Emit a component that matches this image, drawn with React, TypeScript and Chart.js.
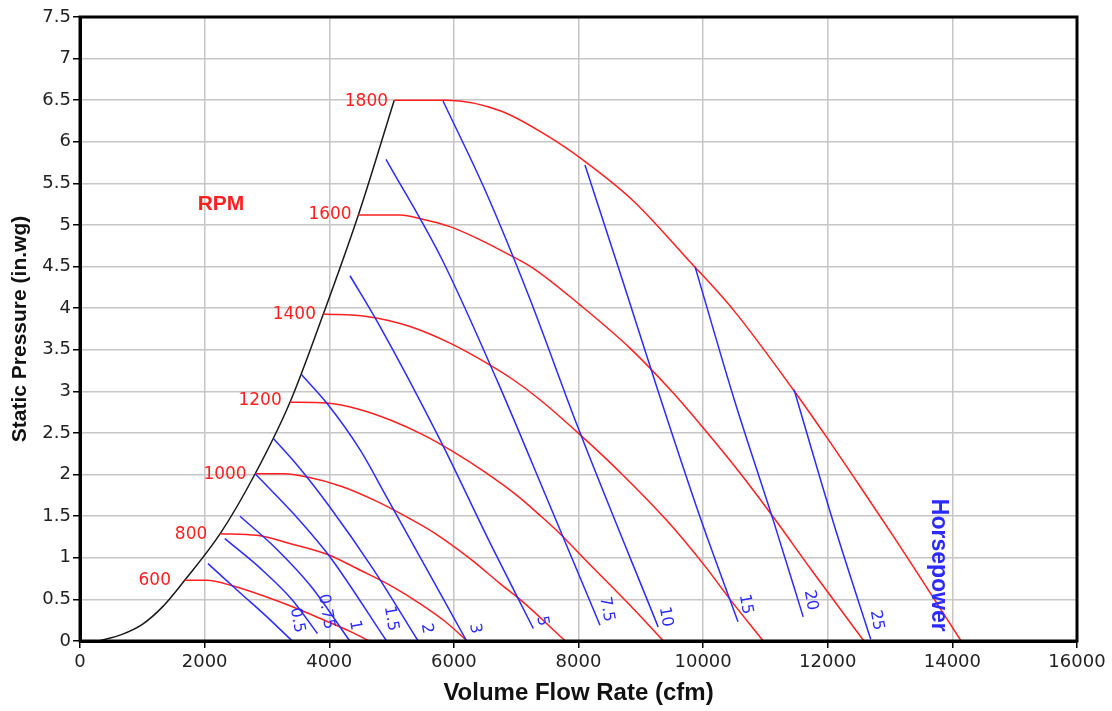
import React, { useEffect, useRef } from 'react';
import { Chart, registerables } from 'chart.js';

Chart.register(...registerables);

// ---------- Axis ticks ----------
const flowTicks = [0, 2000, 4000, 6000, 8000, 10000, 12000, 14000, 16000];
const pressureTicks = [0, 0.5, 1, 1.5, 2, 2.5, 3, 3.5, 4, 4.5, 5, 5.5, 6, 6.5, 7, 7.5];

// ---------- System curve (black) ----------
const systemFlow = [297, 676, 1000, 1324, 1680, 2250, 2811, 3370, 3905, 4467, 5043];
const systemPressure = [0, 0.08, 0.2, 0.41, 0.73, 1.29, 2.01, 2.87, 3.93, 5.12, 6.5];

// ---------- Fan speed curves (red) ----------
const rpmLabels = ['600', '800', '1000', '1200', '1400', '1600', '1800'];

const rpm600Flow = [1680, 2030, 2460, 2950, 3380, 3920, 4350, 4640];
const rpm600Pressure = [0.73, 0.73, 0.66, 0.54, 0.42, 0.25, 0.11, 0];

const rpm800Flow = [2250, 2840, 3380, 3975, 4500, 5000, 5456, 5850, 6215];
const rpm800Pressure = [1.29, 1.27, 1.17, 1.04, 0.85, 0.66, 0.45, 0.24, 0];

const rpm1000Flow = [2811, 3278, 3649, 4189, 4730, 5270, 5684, 6259, 6741, 7061, 7790];
const rpm1000Pressure = [2.01, 2.01, 1.97, 1.86, 1.69, 1.48, 1.3, 0.99, 0.69, 0.5, 0];

const rpm1200Flow = [3370, 3959, 4500, 5000, 5500, 6000, 6500, 7012, 7382, 7703, 8104, 8800, 9365];
const rpm1200Pressure = [2.87, 2.86, 2.78, 2.65, 2.48, 2.27, 2.03, 1.75, 1.51, 1.29, 0.98, 0.45, 0];

const rpm1400Flow = [3905, 4601, 5296, 5938, 6527, 6954, 7382, 8024, 8719, 9415, 10030, 10432, 10966];
const rpm1400Pressure = [3.93, 3.9, 3.78, 3.58, 3.34, 3.14, 2.9, 2.48, 1.99, 1.45, 0.9, 0.5, 0];

const rpm1600Flow = [4467, 5135, 5500, 5938, 6400, 6740, 7275, 8024, 8826, 9521, 10003, 10592, 11126, 11742, 12580];
const rpm1600Pressure = [5.12, 5.12, 5.07, 4.98, 4.83, 4.7, 4.48, 4.04, 3.52, 2.98, 2.56, 2.02, 1.49, 0.85, 0];

const rpm1800Flow = [5043, 5898, 6754, 7503, 8091, 8893, 9763, 10484, 11447, 11982, 12517, 13052, 13427, 14140];
const rpm1800Pressure = [6.5, 6.5, 6.37, 6.07, 5.77, 5.28, 4.58, 3.98, 3.02, 2.45, 1.86, 1.26, 0.83, 0];

// label anchors for the rpm numbers (right edge of text)
const rpmLabelFlow = [1460, 2043, 2675, 3237, 3787, 4360, 4943];
const rpmLabelPressure = [0.73, 1.28, 2.0, 2.89, 3.92, 5.12, 6.48];

// ---------- Horsepower curves (blue) ----------
const hpLabels = ['0.5', '0.75', '1', '1.5', '2', '3', '5', '7.5', '10', '15', '20', '25'];

const hp05Flow = [2054, 2568, 3000, 3405];
const hp05Pressure = [0.93, 0.58, 0.29, 0];

const hp075Flow = [2324, 2900, 3400, 3811];
const hp075Pressure = [1.23, 0.87, 0.5, 0.09];

const hp1Flow = [2568, 3162, 3703, 4330];
const hp1Pressure = [1.5, 1.1, 0.66, 0];

const hp15Flow = [2811, 3451, 4012, 4920];
const hp15Pressure = [2.01, 1.51, 1.01, 0];

const hp2Flow = [3108, 3500, 4000, 4700, 5427];
const hp2Pressure = [2.43, 2.1, 1.62, 0.87, 0];

const hp3Flow = [3557, 3959, 4493, 4921, 6205];
const hp3Pressure = [3.2, 2.86, 2.3, 1.73, 0];

const hp5Flow = [4333, 4800, 5777, 6600, 7275];
const hp5Pressure = [4.39, 3.8, 2.42, 1.15, 0.15];

const hp75Flow = [4911, 5800, 6700, 7500, 8345];
const hp75Pressure = [5.79, 4.6, 3.12, 1.7, 0.19];

const hp10Flow = [5826, 6500, 7200, 8000, 9278];
const hp10Pressure = [6.49, 5.42, 4.15, 2.55, 0.17];

const hp15hpFlow = [8104, 8700, 9300, 9950, 10560];
const hp15hpPressure = [5.72, 4.35, 2.95, 1.49, 0.23];

const hp20Flow = [9870, 10500, 11126, 11606];
const hp20Pressure = [4.5, 2.9, 1.45, 0.29];

const hp25Flow = [11460, 12100, 12690];
const hp25Pressure = [3.02, 1.4, 0.02];

// label anchors for the horsepower numbers (text centre)
const hpLabelFlow = [3483, 3950, 4413, 4990, 5563, 6339, 7419, 8452, 9399, 10683, 11726, 12785];
const hpLabelPressure = [0.25, 0.35, 0.19, 0.27, 0.15, 0.15, 0.24, 0.38, 0.29, 0.44, 0.49, 0.25];

// captions
const rpmCaption = 'RPM';
const rpmCaptionPos = [2263, 5.25];
const hpCaption = 'Horsepower';
const hpCaptionPos = [13769, 0.91];

const RED = '#ff1f1f';
const BLUE = '#2b2bff';
const BLACK = '#1a1a1a';
const TICK_FONT = '"DejaVu Sans", "Liberation Sans", sans-serif';
const TITLE_FONT = '"Liberation Sans", Arial, sans-serif';

const toPoints = (xs: number[], ys: number[]) => xs.map((x, i) => ({ x, y: ys[i] }));

const rpmSeries: [number[], number[]][] = [
  [rpm600Flow, rpm600Pressure],
  [rpm800Flow, rpm800Pressure],
  [rpm1000Flow, rpm1000Pressure],
  [rpm1200Flow, rpm1200Pressure],
  [rpm1400Flow, rpm1400Pressure],
  [rpm1600Flow, rpm1600Pressure],
  [rpm1800Flow, rpm1800Pressure],
];

const hpSeries: [number[], number[]][] = [
  [hp05Flow, hp05Pressure],
  [hp075Flow, hp075Pressure],
  [hp1Flow, hp1Pressure],
  [hp15Flow, hp15Pressure],
  [hp2Flow, hp2Pressure],
  [hp3Flow, hp3Pressure],
  [hp5Flow, hp5Pressure],
  [hp75Flow, hp75Pressure],
  [hp10Flow, hp10Pressure],
  [hp15hpFlow, hp15hpPressure],
  [hp20Flow, hp20Pressure],
  [hp25Flow, hp25Pressure],
];

const annotations = {
  id: 'fanAnnotations',
  afterDatasetsDraw(chart: any) {
    const { ctx, chartArea, scales } = chart;
    const xs = scales.x;
    const ys = scales.y;
    ctx.save();
    // frame
    ctx.strokeStyle = '#000';
    ctx.lineWidth = 3;
    ctx.strokeRect(chartArea.left, chartArea.top, chartArea.right - chartArea.left, chartArea.bottom - chartArea.top);

    // rpm numbers
    ctx.fillStyle = RED;
    ctx.font = `17px ${TICK_FONT}`;
    ctx.textAlign = 'right';
    ctx.textBaseline = 'middle';
    rpmLabels.forEach((t, i) => {
      ctx.fillText(t, xs.getPixelForValue(rpmLabelFlow[i]), ys.getPixelForValue(rpmLabelPressure[i]));
    });

    // RPM caption
    ctx.font = `bold 21px ${TITLE_FONT}`;
    ctx.textAlign = 'center';
    ctx.fillText(rpmCaption, xs.getPixelForValue(rpmCaptionPos[0]), ys.getPixelForValue(rpmCaptionPos[1]));

    // hp numbers (rotated)
    ctx.fillStyle = BLUE;
    ctx.font = `16px ${TICK_FONT}`;
    hpLabels.forEach((t, i) => {
      ctx.save();
      ctx.translate(xs.getPixelForValue(hpLabelFlow[i]), ys.getPixelForValue(hpLabelPressure[i]));
      ctx.rotate((80 * Math.PI) / 180);
      ctx.textAlign = 'center';
      ctx.textBaseline = 'middle';
      ctx.fillText(t, 0, 0);
      ctx.restore();
    });

    // Horsepower caption
    ctx.save();
    ctx.translate(xs.getPixelForValue(hpCaptionPos[0]), ys.getPixelForValue(hpCaptionPos[1]));
    ctx.rotate(Math.PI / 2);
    ctx.font = `bold 23px ${TITLE_FONT}`;
    ctx.textAlign = 'center';
    ctx.textBaseline = 'middle';
    ctx.fillText(hpCaption, 0, 0);
    ctx.restore();

    ctx.restore();
  },
};

export default function App() {
  const canvasRef = useRef<HTMLCanvasElement | null>(null);

  useEffect(() => {
    if (!canvasRef.current) return;
    const datasets: any[] = [];
    hpSeries.forEach(([fx, py], i) => {
      datasets.push({
        label: `${hpLabels[i]} hp`,
        data: toPoints(fx, py),
        borderColor: BLUE,
        borderWidth: 1.5,
        pointRadius: 0,
        cubicInterpolationMode: 'monotone',
        fill: false,
      });
    });
    rpmSeries.forEach(([fx, py], i) => {
      datasets.push({
        label: `${rpmLabels[i]} rpm`,
        data: toPoints(fx, py),
        borderColor: RED,
        borderWidth: 1.5,
        pointRadius: 0,
        cubicInterpolationMode: 'monotone',
        fill: false,
      });
    });
    datasets.push({
      label: 'System',
      data: toPoints(systemFlow, systemPressure),
      borderColor: BLACK,
      borderWidth: 1.5,
      pointRadius: 0,
      cubicInterpolationMode: 'monotone',
      fill: false,
    });

    const chart = new Chart(canvasRef.current, {
      type: 'line',
      data: { datasets },
      options: {
        animation: false,
        responsive: false,
        devicePixelRatio: 1,
        events: [],
        layout: { padding: { left: 0, right: 35, top: 17, bottom: 0 } },
        plugins: {
          legend: { display: false },
          tooltip: { enabled: false },
        },
        scales: {
          x: {
            type: 'linear',
            min: flowTicks[0],
            max: flowTicks[flowTicks.length - 1],
            afterFit: (s: any) => {
              s.height = 70;
            },
            afterBuildTicks: (s: any) => {
              s.ticks = flowTicks.map((v) => ({ value: v }));
            },
            ticks: {
              callback: (v: any) => String(v),
              font: { family: TICK_FONT, size: 18 },
              color: '#222',
              padding: 4,
              maxRotation: 0,
              autoSkip: false,
            },
            grid: { color: '#c6c6c6', lineWidth: 1.5, tickColor: '#000', tickLength: 7, tickWidth: 1.5 },
            border: { color: '#000', width: 3 },
            title: {
              display: true,
              text: 'Volume Flow Rate (cfm)',
              font: { family: TITLE_FONT, size: 24, weight: 'bold' },
              color: '#111',
              padding: { top: 0, bottom: 3 },
            },
          },
          y: {
            type: 'linear',
            min: pressureTicks[0],
            max: pressureTicks[pressureTicks.length - 1],
            afterFit: (s: any) => {
              s.width = 80;
            },
            afterBuildTicks: (s: any) => {
              s.ticks = pressureTicks.map((v) => ({ value: v }));
            },
            ticks: {
              callback: (v: any) => String(v),
              font: { family: TICK_FONT, size: 18 },
              color: '#222',
              padding: 2,
              autoSkip: false,
            },
            grid: { color: '#c6c6c6', lineWidth: 1.5, tickColor: '#000', tickLength: 7, tickWidth: 1.5 },
            border: { color: '#000', width: 3 },
            title: {
              display: true,
              text: 'Static Pressure (in.wg)',
              font: { family: TITLE_FONT, size: 21, weight: 'bold' },
              color: '#111',
              padding: { top: 8, bottom: 0 },
            },
          },
        },
      } as any,
      plugins: [annotations],
    });
    return () => chart.destroy();
  }, []);

  return (
    <div style={{ position: 'absolute', left: 0, top: 0, width: 1112, height: 711, background: '#fff' }}>
      <canvas ref={canvasRef} width={1112} height={711} style={{ display: 'block', width: 1112, height: 711 }} />
    </div>
  );
}
